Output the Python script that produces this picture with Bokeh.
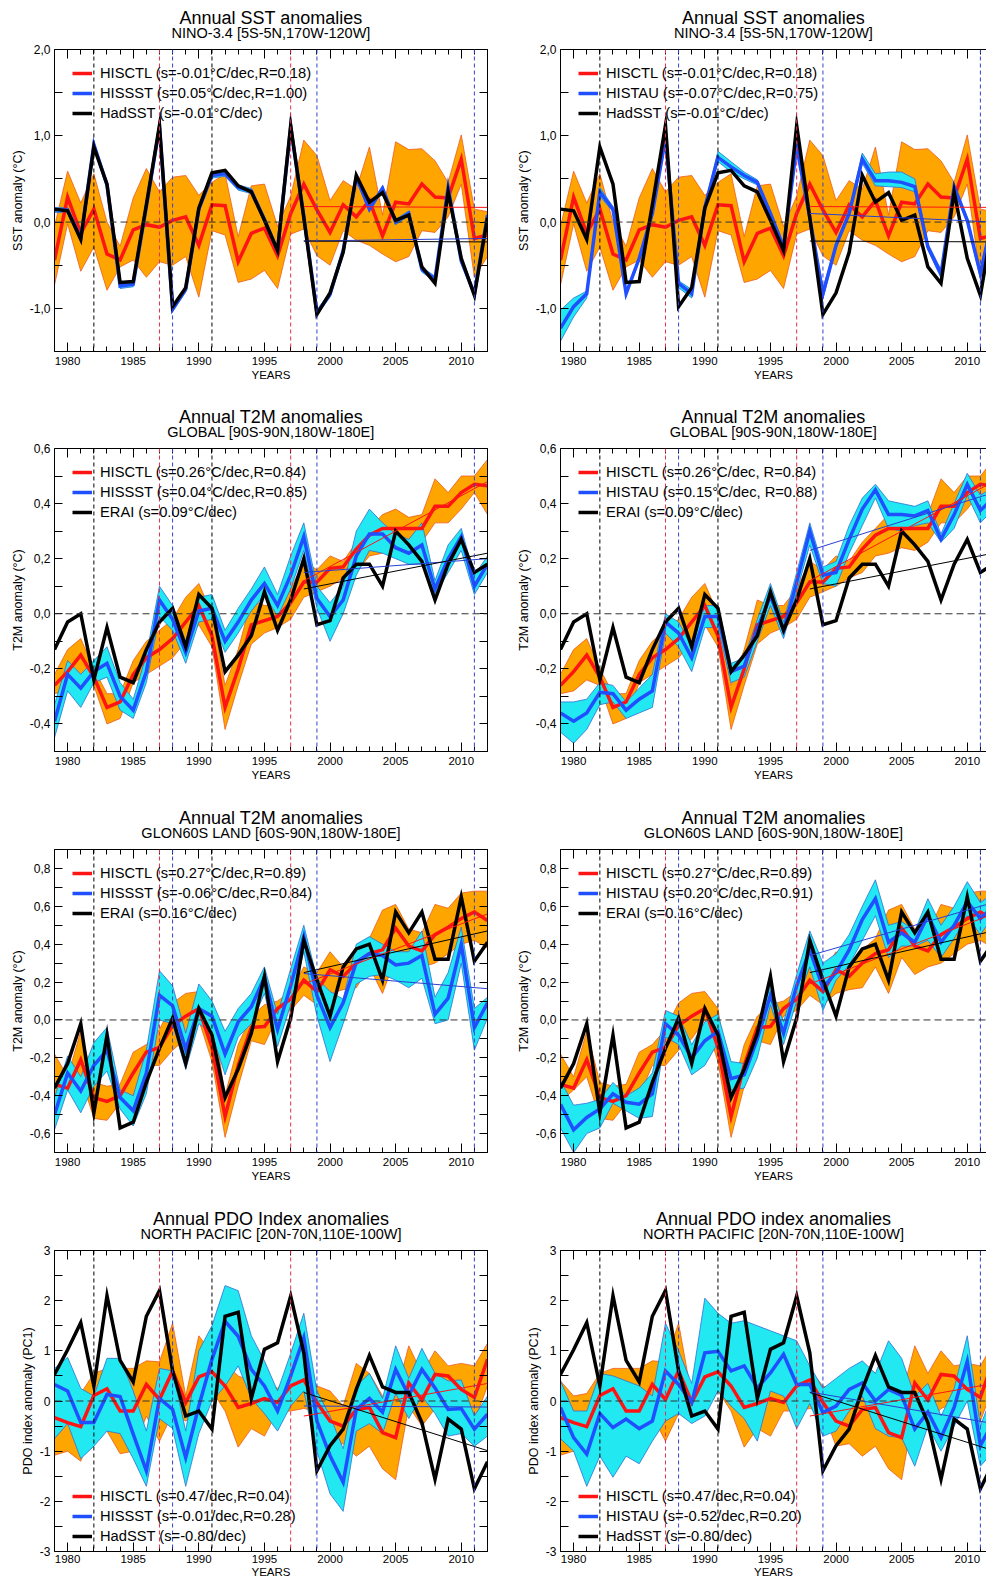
from bokeh.plotting import figure
from bokeh.layouts import gridplot
from bokeh.models import (Range1d, FixedTicker, LinearAxis, CustomJSTickFormatter,
                          CustomLabelingPolicy, Span, Legend, LegendItem, Title)
from bokeh.embed import file_html
from bokeh.resources import INLINE

# ---------------------------------------------------------------- data
YEARS = list(range(1979, 2013))
TREND_YEARS = [1998, 2012]
VOLCANO_YEARS = [1982, 1991]
ELNINO_YEARS = [1987, 1997]
LANINA_YEARS = [1988, 1999, 2011]
X_MAJOR = [1980, 1985, 1990, 1995, 2000, 2005, 2010]
X_MINOR = list(range(1979, 2013))

# Row 1: NINO-3.4 SST anomalies
SST_OBS = [0.15, 0.13, -0.20, 0.87, 0.44, -0.70, -0.69, 0.20, 1.12, -0.98,
           -0.76, 0.16, 0.57, 0.60, 0.42, 0.35, 0.02, -0.33, 1.12, 0.05,
           -1.07, -0.82, -0.35, 0.54, 0.23, 0.34, 0.02, 0.08, -0.52, -0.71,
           0.35, -0.42, -0.85, 0.05]
SST_CTL = [-0.44, 0.29, -0.13, 0.15, -0.37, -0.44, -0.09, -0.03, -0.06, 0.02,
           0.06, -0.27, 0.20, 0.19, -0.46, -0.13, -0.07, -0.39, 0.10, 0.44,
           0.14, -0.12, 0.20, 0.06, 0.25, -0.16, 0.23, 0.21, 0.44, 0.29,
           0.28, 0.73, -0.19, -0.15]
SST_CTL_LO = [-0.73, -0.02, -0.57, -0.29, -0.79, -0.52, -0.44, -0.64, -0.46, -0.50,
              -0.40, -0.87, -0.10, -0.15, -0.70, -0.66, -0.56, -0.77, -0.14, -0.08,
              -0.39, -0.50, -0.10, -0.21, -0.27, -0.37, -0.46, -0.40, -0.10, -0.12,
              0.06, 0.44, -0.64, -0.40]
SST_CTL_HI = [-0.05, 0.59, 0.22, 0.56, 0.00, -0.28, 0.28, 0.62, 0.35, 0.52,
              0.54, 0.31, 0.46, 0.56, -0.17, 0.42, 0.44, -0.05, 0.30, 0.95,
              0.77, 0.25, 0.48, 0.38, 0.87, 0.08, 0.93, 0.84, 0.85, 0.71,
              0.46, 1.01, 0.15, 0.12]
SST_HISSST = [0.14, 0.14, -0.19, 0.90, 0.43, -0.74, -0.72, 0.18, 1.10, -1.01,
              -0.78, 0.15, 0.54, 0.56, 0.40, 0.36, 0.03, -0.33, 1.10, 0.07,
              -1.05, -0.84, -0.33, 0.52, 0.15, 0.39, 0.00, 0.10, -0.55, -0.66,
              0.40, -0.45, -0.83, 0.08]
SST_HISSST_LO = [0.11, 0.11, -0.22, 0.86, 0.40, -0.77, -0.75, 0.15, 1.07, -1.04,
                 -0.81, 0.12, 0.51, 0.53, 0.37, 0.33, 0.00, -0.36, 1.07, 0.04,
                 -1.08, -0.87, -0.36, 0.49, 0.12, 0.36, -0.03, 0.07, -0.58, -0.69,
                 0.37, -0.48, -0.86, 0.05]
SST_HISSST_HI = [0.17, 0.17, -0.16, 0.93, 0.46, -0.71, -0.69, 0.21, 1.13, -0.98,
                 -0.75, 0.18, 0.57, 0.59, 0.43, 0.39, 0.06, -0.30, 1.13, 0.10,
                 -1.02, -0.81, -0.30, 0.55, 0.18, 0.42, 0.03, 0.13, -0.52, -0.63,
                 0.43, -0.42, -0.80, 0.11]
SST_HISTAU = [-1.23, -0.98, -0.83, 0.35, 0.15, -0.83, -0.42, 0.10, 0.97, -0.71,
              -0.83, 0.17, 0.75, 0.64, 0.54, 0.46, 0.10, -0.29, 0.87, 0.05,
              -0.83, -0.27, 0.10, 0.73, 0.48, 0.48, 0.46, 0.41, -0.29, -0.60,
              0.41, 0.02, -0.60, 0.10]
SST_HISTAU_LO = [-1.38, -1.10, -0.88, 0.30, 0.12, -0.86, -0.45, 0.07, 0.93, -0.76,
                 -0.88, 0.13, 0.70, 0.58, 0.50, 0.43, 0.07, -0.33, 0.83, 0.01,
                 -0.89, -0.30, 0.07, 0.68, 0.42, 0.41, 0.40, 0.35, -0.32, -0.65,
                 0.37, -0.01, -0.65, 0.06]
SST_HISTAU_HI = [-1.02, -0.88, -0.80, 0.40, 0.18, -0.80, -0.40, 0.13, 1.02, -0.68,
                 -0.78, 0.20, 0.82, 0.70, 0.58, 0.49, 0.13, -0.26, 0.92, 0.08,
                 -0.77, -0.24, 0.13, 0.80, 0.56, 0.58, 0.58, 0.50, -0.25, -0.55,
                 0.44, 0.05, -0.55, 0.14]
SST_TR_CTL = [0.18, 0.17]
SST_TR_OBS = [-0.22, -0.23]
SST_TR_HISSST = [-0.22, -0.19]
SST_TR_HISTAU = [0.10, 0.00]

# Row 2: GLOBAL T2M anomalies
GLB_OBS = [-0.13, -0.03, 0.00, -0.24, -0.05, -0.23, -0.25, -0.13, -0.03, 0.02,
           -0.12, 0.07, 0.02, -0.21, -0.15, -0.08, 0.08, -0.06, 0.05, 0.20,
           -0.04, -0.025, 0.13, 0.18, 0.18, 0.10, 0.30, 0.25, 0.19, 0.05,
           0.18, 0.27, 0.15, 0.18]
GLB_CTL = [-0.26, -0.21, -0.15, -0.23, -0.34, -0.32, -0.22, -0.16, -0.13, -0.09,
           -0.03, 0.03, -0.08, -0.34, -0.20, -0.04, -0.025, -0.01, 0.04, 0.115,
           0.115, 0.165, 0.17, 0.235, 0.285, 0.31, 0.31, 0.31, 0.31, 0.39,
           0.39, 0.44, 0.47, 0.465]
GLB_CTL_LO = [-0.29, -0.28, -0.24, -0.26, -0.40, -0.38, -0.25, -0.22, -0.19, -0.16,
              -0.10, -0.04, -0.12, -0.42, -0.26, -0.11, -0.07, -0.05, -0.02, 0.06,
              0.08, 0.10, 0.13, 0.15, 0.21, 0.22, 0.24, 0.23, 0.26, 0.33,
              0.33, 0.38, 0.44, 0.36]
GLB_CTL_HI = [-0.22, -0.13, -0.09, -0.20, -0.29, -0.29, -0.17, -0.10, -0.06, -0.02,
              0.06, 0.11, 0.00, -0.26, -0.13, 0.05, 0.03, 0.03, 0.09, 0.19,
              0.16, 0.21, 0.19, 0.26, 0.31, 0.36, 0.38, 0.35, 0.36, 0.49,
              0.44, 0.50, 0.50, 0.56]
GLB_HISSST = [-0.39, -0.22, -0.27, -0.21, -0.18, -0.30, -0.35, -0.21, 0.05, -0.02,
              -0.14, 0.01, 0.02, -0.10, -0.03, 0.05, 0.11, 0.03, 0.14, 0.28,
              0.055, -0.01, 0.05, 0.21, 0.29, 0.29, 0.24, 0.22, 0.25, 0.09,
              0.20, 0.28, 0.10, 0.18]
GLB_HISSST_LO = [-0.45, -0.28, -0.34, -0.25, -0.23, -0.35, -0.38, -0.25, -0.01, -0.06,
                 -0.18, -0.03, -0.02, -0.14, -0.07, 0.01, 0.07, -0.01, 0.09, 0.23,
                 0.02, -0.10, 0.00, 0.14, 0.23, 0.22, 0.20, 0.18, 0.18, 0.07,
                 0.15, 0.23, 0.07, 0.15]
GLB_HISSST_HI = [-0.33, -0.17, -0.22, -0.17, -0.12, -0.25, -0.31, -0.15, 0.10, 0.03,
                 -0.10, 0.06, 0.07, -0.06, 0.02, 0.09, 0.17, 0.07, 0.21, 0.33,
                 0.10, 0.04, 0.10, 0.30, 0.38, 0.33, 0.29, 0.27, 0.33, 0.12,
                 0.25, 0.31, 0.14, 0.21]
GLB_HISTAU = [-0.36, -0.39, -0.36, -0.285, -0.29, -0.35, -0.31, -0.28, -0.03, -0.07,
              -0.16, -0.01, -0.01, -0.21, -0.19, -0.055, 0.065, -0.06, 0.115, 0.30,
              0.14, 0.15, 0.27, 0.38, 0.45, 0.36, 0.36, 0.355, 0.375, 0.27,
              0.36, 0.47, 0.375, 0.42]
GLB_HISTAU_LO = [-0.43, -0.47, -0.42, -0.33, -0.32, -0.38, -0.36, -0.34, -0.07, -0.12,
                 -0.21, -0.05, -0.05, -0.25, -0.23, -0.10, 0.03, -0.09, 0.08, 0.25,
                 0.11, 0.10, 0.22, 0.32, 0.42, 0.31, 0.30, 0.32, 0.33, 0.26,
                 0.31, 0.43, 0.33, 0.38]
GLB_HISTAU_HI = [-0.32, -0.32, -0.31, -0.25, -0.26, -0.32, -0.27, -0.22, 0.00, -0.03,
                 -0.12, 0.03, 0.03, -0.18, -0.16, -0.02, 0.11, -0.03, 0.15, 0.33,
                 0.17, 0.19, 0.32, 0.42, 0.47, 0.41, 0.40, 0.39, 0.41, 0.29,
                 0.40, 0.51, 0.43, 0.46]
GLB_TR_CTL = [0.12, 0.48]
GLB_TR_OBS = [0.09, 0.22]
GLB_TR_HISSST = [0.15, 0.20]
GLB_TR_HISTAU = [0.23, 0.44]

# Row 3: GLON60S LAND T2M anomalies
LND_OBS = [-0.36, -0.23, -0.02, -0.49, -0.08, -0.57, -0.54, -0.33, -0.15, 0.01,
           -0.23, 0.06, -0.08, -0.41, -0.26, -0.07, 0.23, -0.22, 0.01, 0.42,
           0.21, 0.02, 0.28, 0.375, 0.40, 0.21, 0.57, 0.46, 0.57, 0.32,
           0.32, 0.65, 0.31, 0.41]
LND_CTL = [-0.34, -0.36, -0.21, -0.41, -0.43, -0.40, -0.28, -0.17, -0.145, -0.03,
           0.02, 0.06, -0.145, -0.51, -0.24, -0.04, -0.035, 0.06, 0.11, 0.21,
           0.15, 0.265, 0.23, 0.30, 0.35, 0.37, 0.485, 0.39, 0.365, 0.45,
           0.49, 0.535, 0.57, 0.525]
LND_CTL_LO = [-0.43, -0.37, -0.30, -0.52, -0.53, -0.44, -0.40, -0.24, -0.24, -0.16,
              -0.10, 0.00, -0.22, -0.62, -0.35, -0.11, -0.13, 0.02, 0.05, 0.13,
              0.08, 0.14, 0.16, 0.17, 0.28, 0.14, 0.33, 0.24, 0.28, 0.30,
              0.35, 0.40, 0.42, 0.38]
LND_CTL_HI = [-0.18, -0.30, -0.06, -0.33, -0.35, -0.34, -0.17, -0.13, -0.05, 0.09,
              0.14, 0.15, 0.06, -0.40, -0.13, 0.02, 0.08, 0.10, 0.15, 0.28,
              0.25, 0.36, 0.28, 0.37, 0.43, 0.58, 0.61, 0.48, 0.46, 0.61,
              0.59, 0.67, 0.68, 0.68]
LND_HISSST = [-0.50, -0.28, -0.375, -0.24, -0.16, -0.41, -0.48, -0.28, 0.13, 0.075,
              -0.155, 0.06, 0.02, -0.18, -0.01, 0.07, 0.225, -0.05, 0.18, 0.44,
              0.13, -0.04, 0.09, 0.305, 0.35, 0.34, 0.29, 0.30, 0.34, 0.03,
              0.115, 0.40, -0.04, 0.09]
LND_HISSST_LO = [-0.58, -0.37, -0.49, -0.35, -0.27, -0.47, -0.56, -0.39, 0.00, -0.02,
                 -0.26, -0.02, -0.07, -0.29, -0.09, -0.02, 0.14, -0.14, 0.08, 0.36,
                 0.02, -0.22, -0.02, 0.19, 0.23, 0.24, 0.21, 0.17, 0.22, -0.02,
                 0.00, 0.30, -0.16, 0.01]
LND_HISSST_HI = [-0.41, -0.19, -0.30, -0.12, -0.04, -0.37, -0.40, -0.16, 0.26, 0.18,
                 -0.07, 0.19, 0.10, -0.06, 0.06, 0.14, 0.28, 0.03, 0.27, 0.50,
                 0.22, 0.15, 0.11, 0.40, 0.44, 0.40, 0.36, 0.36, 0.47, 0.12,
                 0.25, 0.49, 0.06, 0.12]
LND_HISTAU = [-0.445, -0.58, -0.515, -0.47, -0.39, -0.435, -0.445, -0.39, -0.02, -0.08,
              -0.20, -0.11, -0.06, -0.31, -0.29, -0.10, 0.13, -0.07, 0.18, 0.37,
              0.17, 0.25, 0.37, 0.53, 0.64, 0.41, 0.46, 0.41, 0.55, 0.41,
              0.50, 0.625, 0.535, 0.60]
LND_HISTAU_LO = [-0.57, -0.70, -0.60, -0.57, -0.44, -0.48, -0.52, -0.51, -0.09, -0.13,
                 -0.29, -0.24, -0.12, -0.37, -0.36, -0.20, 0.08, -0.13, 0.10, 0.28,
                 0.05, 0.21, 0.29, 0.42, 0.55, 0.33, 0.39, 0.39, 0.42, 0.33,
                 0.43, 0.55, 0.45, 0.55]
LND_HISTAU_HI = [-0.32, -0.45, -0.44, -0.42, -0.33, -0.40, -0.36, -0.28, 0.05, 0.02,
                 -0.13, -0.01, 0.03, -0.22, -0.23, -0.03, 0.18, -0.01, 0.24, 0.47,
                 0.30, 0.35, 0.45, 0.60, 0.74, 0.50, 0.52, 0.47, 0.64, 0.50,
                 0.60, 0.73, 0.62, 0.67]
LND_TR_CTL = [0.19, 0.56]
LND_TR_OBS = [0.25, 0.47]
LND_TR_HISSST = [0.245, 0.165]
LND_TR_HISTAU = [0.34, 0.62]

# Row 4: PDO index anomalies
PDO_OBS = [0.53, 1.02, 1.56, 0.30, 2.10, 0.81, 0.38, 1.69, 2.20, 0.60,
           -0.30, -0.20, -0.56, 1.69, 1.77, 0.05, 1.03, 1.16, 2.09, 0.96,
           -1.39, -0.89, -0.56, 0.23, 0.91, 0.28, 0.17, 0.17, -0.43, -1.56,
           -0.36, -0.56, -1.75, -1.21]
PDO_CTL = [-0.33, -0.43, -0.51, 0.11, 0.245, -0.20, -0.20, 0.33, 0.03, 0.60,
           -0.03, 0.48, 0.58, 0.30, -0.13, -0.05, 0.05, -0.03, 0.30, 0.42,
           -0.03, -0.40, -0.50, -0.17, -0.13, -0.63, -0.73, 0.36, 0.02, 0.53,
           0.50, 0.23, 0.07, 0.83]
PDO_CTL_LO = [-1.08, -1.00, -1.20, -0.50, -0.60, -1.05, -1.00, -0.30, -0.80, -0.25,
              -0.40, -0.20, 0.20, -0.20, -0.92, -0.55, -0.70, -0.20, -0.20, -0.15,
              -0.20, -0.90, -0.85, -1.10, -0.90, -1.35, -1.57, -0.10, -0.50, -0.15,
              -0.05, 0.10, -0.40, 0.30]
PDO_CTL_HI = [0.40, 0.10, 0.15, 0.55, 0.65, 0.65, 0.65, 0.80, 0.78, 1.55,
              0.10, 1.30, 0.95, 0.75, 0.50, 0.40, 0.45, 0.25, 0.60, 0.62,
              0.30, 0.20, -0.10, 0.75, 0.55, 0.10, 0.10, 1.10, 0.55, 1.00,
              0.70, 0.75, 0.70, 1.15]
PDO_HISSST = [0.33, 0.20, -0.43, -0.43, 0.13, 0.09, -0.66, -1.39, 0.05, -0.17,
              -1.13, -0.10, 0.83, 1.59, 1.29, 0.63, 0.30, -0.20, 0.50, 1.26,
              -0.40, -1.09, -1.62, -0.17, 0.05, -0.22, 0.63, 0.11, 0.63, 0.26,
              -0.17, -0.15, -0.56, -0.26]
PDO_HISSST_LO = [-0.75, -0.45, -1.15, -0.90, -0.60, -0.65, -1.15, -1.70, -0.35, -0.55,
                 -1.70, -0.65, 0.00, 0.30, 0.70, 0.05, -0.25, -0.60, -0.10, 0.20,
                 -1.00, -1.85, -2.20, -0.60, -0.45, -0.65, 0.15, -0.35, 0.10, -0.25,
                 -0.70, -0.65, -0.90, -0.70]
PDO_HISSST_HI = [0.65, 0.87, 0.25, 0.10, 0.85, 0.85, 0.20, -0.60, 0.65, 0.60,
                 -0.60, 1.00, 1.50, 2.30, 2.20, 1.30, 0.80, 0.20, 0.95, 1.75,
                 0.20, -0.30, -0.95, 0.30, 0.55, 0.05, 1.10, 0.45, 1.05, 0.55,
                 0.40, 0.42, -0.30, 0.10]
PDO_HISTAU = [-0.13, -0.73, -1.06, -0.25, -0.53, -0.36, -0.55, -0.40, 0.60, 0.33,
              -0.03, 0.96, 0.99, 0.60, 0.70, 0.26, 0.56, 0.93, 0.33, 0.33,
              -0.23, -0.10, 0.23, 0.36, 0.00, 0.23, 0.11, -0.56, -0.22, -0.73,
              -0.13, 0.79, -0.89, -0.40]
PDO_HISTAU_LO = [-0.75, -1.00, -1.70, -1.10, -1.52, -1.10, -1.25, -0.80, -0.40, -0.25,
                 -0.45, -0.30, 0.20, -0.10, -0.35, -0.80, 0.20, 0.10, -0.55, -0.05,
                 -0.70, -0.60, -0.20, 0.10, -0.55, -0.70, -0.73, -1.30, -0.50, -1.00,
                 -0.50, 0.00, -1.30, -1.00]
PDO_HISTAU_HI = [0.40, -0.20, -0.20, 0.55, 0.50, 0.40, 0.30, 0.10, 1.55, 1.00,
                 0.35, 2.05, 1.75, 1.55, 1.60, 1.50, 1.40, 1.30, 1.20, 0.70,
                 0.25, 0.45, 0.65, 0.80, 0.55, 1.20, 0.85, 0.10, 0.35, -0.30,
                 0.25, 1.30, -0.50, 0.20]
PDO_TR_CTL = [-0.30, 0.35]
PDO_TR_OBS = [0.17, -0.99]
PDO_TR_HISSST = [-0.10, -0.12]
PDO_TR_HISTAU = [0.18, -0.45]

# ---------------------------------------------------------------- style
FONT = "Liberation Sans"
ORANGE = "#FFA500"
ORANGE_EDGE = "#EE5A1E"
CYAN = "#22E8F2"
CYAN_EDGE = "#2E6FD6"
RED = "#FF1414"
BLUE = "#1F4FFF"
TREND_BLUE = "#2A3FD0"
NINO_RED = "#E03050"
NINA_BLUE = "#3344CC"

PANEL_W = 493
ROW_H = [400, 400, 400, 380]
TOP = [49, 48, 49, 50]
BOTTOM = [49, 49, 48, 28]
XLAB_STANDOFF = [5, 5, 5, 3]
PX_PER_YEAR = 433 / 33
LEG_ROW = 20


def fmt(decimals):
    if decimals == 0:
        return CustomJSTickFormatter(code="return tick.toFixed(0);")
    return CustomJSTickFormatter(code="return tick.toFixed(%d).replace('.', ',');" % decimals)


def make_panel(row_i, right, title, subtitle, ylabel, yrange, ymajor, yminor, decimals,
               ctl, ctl_lo, ctl_hi, exp, exp_lo, exp_hi, obs,
               tr_ctl, tr_exp, tr_obs, labels, legend_bottom):
    h = ROW_H[row_i]
    bl = 67 if right else 54
    br = 0 if right else 6
    fw = PANEL_W - bl - br
    x_end = 1979 + fw / PX_PER_YEAR
    p = figure(width=PANEL_W, height=h, x_range=Range1d(1979, x_end),
               y_range=Range1d(*yrange), x_axis_type=None, y_axis_type=None,
               title=None, output_backend="svg", toolbar_location=None,
               min_border_left=bl, min_border_right=br, min_border_top=TOP[row_i],
               min_border_bottom=BOTTOM[row_i], outline_line_color=None,
               background_fill_color="white", border_fill_color="white")

    def hide_labels(ax):
        ax.major_label_policy = CustomLabelingPolicy(code="return []")
        ax.major_label_text_font_size = "0px"
        ax.major_label_standoff = 0

    def x_axis(with_labels):
        ax = LinearAxis(ticker=FixedTicker(ticks=X_MAJOR, minor_ticks=X_MINOR),
                        formatter=fmt(0))
        ax.major_tick_in = 9
        ax.major_tick_out = 0
        ax.minor_tick_in = 5
        ax.minor_tick_out = 0
        ax.axis_line_color = "black"
        ax.major_tick_line_color = "black"
        ax.minor_tick_line_color = "black"
        if with_labels:
            ax.major_label_text_font = FONT
            ax.major_label_text_font_size = "11.5px"
            ax.major_label_text_color = "black"
            ax.major_label_standoff = XLAB_STANDOFF[row_i]
            ax.axis_label = "YEARS"
            ax.axis_label_text_font = FONT
            ax.axis_label_text_font_size = "11.5px"
            ax.axis_label_text_font_style = "normal"
            ax.axis_label_text_color = "black"
            ax.axis_label_standoff = 1 if row_i < 3 else 0
        else:
            hide_labels(ax)
        return ax

    def y_axis(with_labels):
        ax = LinearAxis(ticker=FixedTicker(ticks=ymajor, minor_ticks=yminor),
                        formatter=fmt(decimals))
        ax.major_tick_in = 8
        ax.major_tick_out = 0
        ax.minor_tick_in = 8
        ax.minor_tick_out = 0
        ax.axis_line_color = "black"
        ax.major_tick_line_color = "black"
        ax.minor_tick_line_color = "black"
        if with_labels:
            ax.major_label_text_font = FONT
            ax.major_label_text_font_size = "12px"
            ax.major_label_text_color = "black"
            ax.major_label_standoff = 4
            ax.axis_label = ylabel
            ax.axis_label_text_font = FONT
            ax.axis_label_text_font_size = "12.5px"
            ax.axis_label_text_font_style = "normal"
            ax.axis_label_text_color = "black"
            ax.axis_label_standoff = 2
        else:
            hide_labels(ax)
        return ax

    p.add_layout(x_axis(True), "below")
    p.add_layout(y_axis(True), "left")
    p.add_layout(x_axis(False), "above")
    if not right:
        p.add_layout(y_axis(False), "right")

    p.add_layout(Title(text=subtitle, align="center", vertical_align="top",
                       text_font=FONT, text_font_size="14.5px", text_font_style="normal",
                       text_color="black", standoff=13), "above")
    p.add_layout(Title(text=title, align="center", vertical_align="bottom",
                       text_font=FONT, text_font_size="18px", text_font_style="normal",
                       text_color="black", standoff=-19), "above")

    # ensemble spreads
    p.varea(x=YEARS, y1=ctl_lo, y2=ctl_hi, fill_color=ORANGE)
    p.line(YEARS, ctl_lo, line_color=ORANGE_EDGE, line_width=0.8)
    p.line(YEARS, ctl_hi, line_color=ORANGE_EDGE, line_width=0.8)
    p.varea(x=YEARS, y1=exp_lo, y2=exp_hi, fill_color=CYAN)
    p.line(YEARS, exp_lo, line_color=CYAN_EDGE, line_width=0.8)
    p.line(YEARS, exp_hi, line_color=CYAN_EDGE, line_width=0.8)

    # ensemble means / observation
    r_ctl = p.line(YEARS, ctl, line_color=RED, line_width=3.5, line_join="miter")
    r_exp = p.line(YEARS, exp, line_color=BLUE, line_width=3.5, line_join="miter")
    r_obs = p.line(YEARS, obs, line_color="black", line_width=3.5, line_join="miter")

    # 1998-2012 trends
    p.line(TREND_YEARS, tr_ctl, line_color=RED, line_width=1)
    p.line(TREND_YEARS, tr_exp, line_color=TREND_BLUE, line_width=1)
    p.line(TREND_YEARS, tr_obs, line_color="black", line_width=1)

    # event markers
    for yv in VOLCANO_YEARS:
        p.add_layout(Span(location=yv, dimension="height", line_color="black",
                          line_width=1, line_dash="4 3"))
    for yv in ELNINO_YEARS:
        p.add_layout(Span(location=yv, dimension="height", line_color=NINO_RED,
                          line_width=1, line_dash="4 3"))
    for yv in LANINA_YEARS:
        p.add_layout(Span(location=yv, dimension="height", line_color=NINA_BLUE,
                          line_width=1, line_dash="4 3"))
    p.add_layout(Span(location=0, dimension="width", line_color="#333333",
                      line_width=1, line_dash="7 4"))

    frame_h = h - TOP[row_i] - BOTTOM[row_i]
    leg_h = 3 * LEG_ROW
    if legend_bottom:
        loc = (18, 15 - LEG_ROW // 2)
    else:
        loc = (18, frame_h - (24 - LEG_ROW // 2) - leg_h)
    legend = Legend(items=[LegendItem(label=labels[0], renderers=[r_ctl]),
                           LegendItem(label=labels[1], renderers=[r_exp]),
                           LegendItem(label=labels[2], renderers=[r_obs])],
                    location=loc, margin=0, padding=0, spacing=0,
                    glyph_width=20, glyph_height=LEG_ROW, label_height=LEG_ROW,
                    label_standoff=8, label_text_font=FONT,
                    label_text_font_size="14.7px", label_text_color="black",
                    border_line_color=None, background_fill_alpha=0)
    p.add_layout(legend)
    return p


SST_MAJOR = [-1.0, 0.0, 1.0, 2.0]
SST_MINOR = [-1.5, -0.5, 0.5, 1.5]
GLB_MAJOR = [-0.4, -0.2, 0.0, 0.2, 0.4, 0.6]
GLB_MINOR = [-0.5, -0.3, -0.1, 0.1, 0.3, 0.5]
LND_MAJOR = [-0.6, -0.4, -0.2, 0.0, 0.2, 0.4, 0.6, 0.8]
LND_MINOR = [-0.7, -0.5, -0.3, -0.1, 0.1, 0.3, 0.5, 0.7, 0.9]
PDO_MAJOR = [-3, -2, -1, 0, 1, 2, 3]
PDO_MINOR = [-2.5, -1.5, -0.5, 0.5, 1.5, 2.5]

p11 = make_panel(0, False, "Annual SST anomalies", "NINO-3.4 [5S-5N,170W-120W]",
                 "SST anomaly (°C)", (-1.5, 2.0), SST_MAJOR, SST_MINOR, 1,
                 SST_CTL, SST_CTL_LO, SST_CTL_HI, SST_HISSST, SST_HISSST_LO, SST_HISSST_HI,
                 SST_OBS, SST_TR_CTL, SST_TR_HISSST, SST_TR_OBS,
                 ["HISCTL (s=-0.01°C/dec,R=0.18)", "HISSST (s=0.05°C/dec,R=1.00)",
                  "HadSST (s=-0.01°C/dec)"], False)
p12 = make_panel(0, True, "Annual SST anomalies", "NINO-3.4 [5S-5N,170W-120W]",
                 "SST anomaly (°C)", (-1.5, 2.0), SST_MAJOR, SST_MINOR, 1,
                 SST_CTL, SST_CTL_LO, SST_CTL_HI, SST_HISTAU, SST_HISTAU_LO, SST_HISTAU_HI,
                 SST_OBS, SST_TR_CTL, SST_TR_HISTAU, SST_TR_OBS,
                 ["HISCTL (s=-0.01°C/dec,R=0.18)", "HISTAU (s=-0.07°C/dec,R=0.75)",
                  "HadSST (s=-0.01°C/dec)"], False)
p21 = make_panel(1, False, "Annual T2M anomalies", "GLOBAL [90S-90N,180W-180E]",
                 "T2M anomaly (°C)", (-0.5, 0.6), GLB_MAJOR, GLB_MINOR, 1,
                 GLB_CTL, GLB_CTL_LO, GLB_CTL_HI, GLB_HISSST, GLB_HISSST_LO, GLB_HISSST_HI,
                 GLB_OBS, GLB_TR_CTL, GLB_TR_HISSST, GLB_TR_OBS,
                 ["HISCTL (s=0.26°C/dec,R=0.84)", "HISSST (s=0.04°C/dec,R=0.85)",
                  "ERAI (s=0.09°C/dec)"], False)
p22 = make_panel(1, True, "Annual T2M anomalies", "GLOBAL [90S-90N,180W-180E]",
                 "T2M anomaly (°C)", (-0.5, 0.6), GLB_MAJOR, GLB_MINOR, 1,
                 GLB_CTL, GLB_CTL_LO, GLB_CTL_HI, GLB_HISTAU, GLB_HISTAU_LO, GLB_HISTAU_HI,
                 GLB_OBS, GLB_TR_CTL, GLB_TR_HISTAU, GLB_TR_OBS,
                 ["HISCTL (s=0.26°C/dec, R=0.84)", "HISTAU (s=0.15°C/dec, R=0.88)",
                  "ERAI (s=0.09°C/dec)"], False)
p31 = make_panel(2, False, "Annual T2M anomalies", "GLON60S LAND [60S-90N,180W-180E]",
                 "T2M anomaly (°C)", (-0.7, 0.9), LND_MAJOR, LND_MINOR, 1,
                 LND_CTL, LND_CTL_LO, LND_CTL_HI, LND_HISSST, LND_HISSST_LO, LND_HISSST_HI,
                 LND_OBS, LND_TR_CTL, LND_TR_HISSST, LND_TR_OBS,
                 ["HISCTL (s=0.27°C/dec,R=0.89)", "HISSST (s=-0.06°C/dec,R=0.84)",
                  "ERAI (s=0.16°C/dec)"], False)
p32 = make_panel(2, True, "Annual T2M anomalies", "GLON60S LAND [60S-90N,180W-180E]",
                 "T2M anomaly (°C)", (-0.7, 0.9), LND_MAJOR, LND_MINOR, 1,
                 LND_CTL, LND_CTL_LO, LND_CTL_HI, LND_HISTAU, LND_HISTAU_LO, LND_HISTAU_HI,
                 LND_OBS, LND_TR_CTL, LND_TR_HISTAU, LND_TR_OBS,
                 ["HISCTL (s=0.27°C/dec,R=0.89)", "HISTAU (s=0.20°C/dec,R=0.91)",
                  "ERAI (s=0.16°C/dec)"], False)
p41 = make_panel(3, False, "Annual PDO Index anomalies", "NORTH PACIFIC [20N-70N,110E-100W]",
                 "PDO index anomaly (PC1)", (-3, 3), PDO_MAJOR, PDO_MINOR, 0,
                 PDO_CTL, PDO_CTL_LO, PDO_CTL_HI, PDO_HISSST, PDO_HISSST_LO, PDO_HISSST_HI,
                 PDO_OBS, PDO_TR_CTL, PDO_TR_HISSST, PDO_TR_OBS,
                 ["HISCTL (s=0.47/dec,R=0.04)", "HISSST (s=-0.01/dec,R=0.28)",
                  "HadSST (s=-0.80/dec)"], True)
p42 = make_panel(3, True, "Annual PDO index anomalies", "NORTH PACIFIC [20N-70N,110E-100W]",
                 "PDO index anomaly (PC1)", (-3, 3), PDO_MAJOR, PDO_MINOR, 0,
                 PDO_CTL, PDO_CTL_LO, PDO_CTL_HI, PDO_HISTAU, PDO_HISTAU_LO, PDO_HISTAU_HI,
                 PDO_OBS, PDO_TR_CTL, PDO_TR_HISTAU, PDO_TR_OBS,
                 ["HISCTL (s=0.47/dec,R=0.04)", "HISTAU (s=-0.52/dec,R=0.20)",
                  "HadSST (s=-0.80/dec)"], True)

grid = gridplot([[p11, p12], [p21, p22], [p31, p32], [p41, p42]], toolbar_location=None)

with open("out.html", "w") as f:
    f.write(file_html(grid, INLINE))
